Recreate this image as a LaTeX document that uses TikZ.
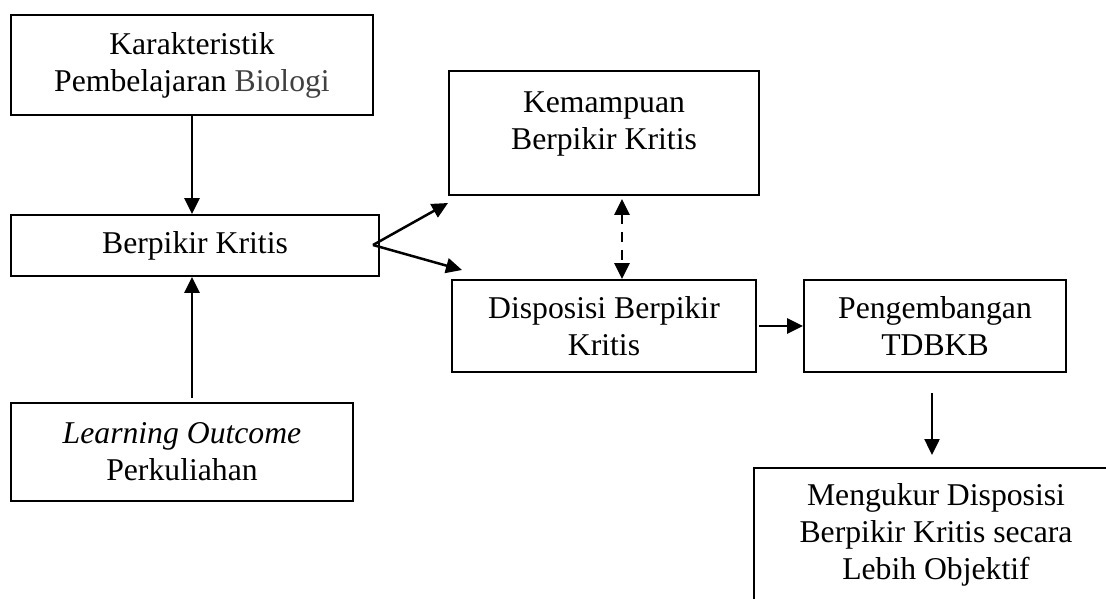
\documentclass[tikz,border=0pt]{standalone}
\usepackage{fontspec}
\setmainfont{Liberation Serif}
\usetikzlibrary{arrows.meta}
\definecolor{biogray}{HTML}{404040}
\begin{document}
\begin{tikzpicture}[x=1pt,y=-1pt,
  box/.style={draw, line width=1.8pt, inner sep=0pt, align=center, font=\fontsize{31.7}{37}\selectfont},
  txt/.style={inner sep=0pt, align=center, font=\fontsize{31.7}{37}\selectfont},
  arr/.style={line width=2.5pt, -{Triangle[length=16pt,width=15pt]}},
  dasharr/.style={line width=2.5pt, dash pattern=on 10pt off 8pt, {Triangle[length=16pt,width=15pt]}-{Triangle[length=16pt,width=15pt]}}
]
\useasboundingbox (0,0) rectangle (1106,599);
\fill[white] (0,0) rectangle (1106,599);
\clip (0,0) rectangle (1106,599);

% boxes
\node[box, minimum width=362pt, minimum height=100pt] (kar) at (192,65) {Karakteristik\\Pembelajaran {\color{biogray}Biologi}};
\node[box, minimum width=368pt, minimum height=61pt] (bk) at (195,245.5) {Berpikir Kritis};
\node[box, minimum width=342pt, minimum height=98pt] (lo) at (182,452) {\textit{Learning Outcome}\\Perkuliahan};
\node[box, minimum width=310pt, minimum height=124pt] (kem) at (604,133) {};
\node[txt] (kemtxt) at (604,124) {Kemampuan\\Berpikir Kritis};
\node[box, minimum width=304pt, minimum height=92pt] (dis) at (604,326) {Disposisi Berpikir\\Kritis};
\node[box, minimum width=262pt, minimum height=92pt] (peng) at (935,326) {Pengembangan\\TDBKB};
\node[box, minimum width=364pt, minimum height=134pt] (ukur) at (936,535) {Mengukur Disposisi\\Berpikir Kritis secara\\Lebih Objektif};

% helper coordinates
\coordinate (split) at (373,245);
\coordinate (tipA) at (448,203);
\coordinate (tipB) at (462,270);
\coordinate (loTop) at (192,398);
\coordinate (dashx) at (622,0);
\coordinate (downS) at (932,393);
\coordinate (downE) at (932,455);

% connectors
\draw[arr] (kar.south -| loTop) -- (bk.north -| loTop);
\draw[arr] (loTop) -- (bk.south -| loTop);
\draw[arr] (split) -- (tipA);
\draw[arr] (split) -- (tipB);
\draw[dasharr] (kem.south -| dashx) ++(0,3) -- (dis.north -| dashx);
\draw[arr] ([xshift=2pt]dis.east) -- (peng.west);
\draw[arr] (downS) -- (downE);
\end{tikzpicture}
\end{document}
